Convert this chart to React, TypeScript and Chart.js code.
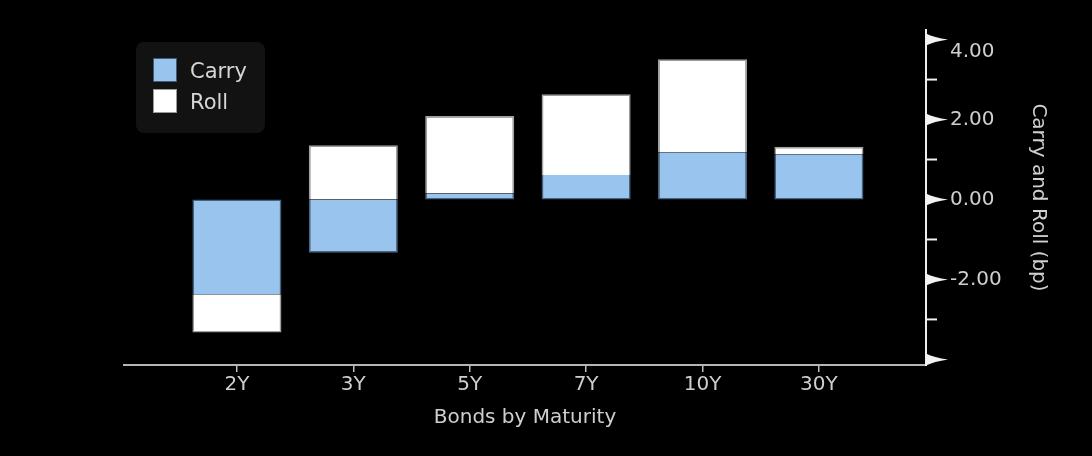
import React, { useEffect, useRef } from 'react';
import { Chart, registerables } from 'chart.js';

Chart.register(...registerables);

const categories = ['2Y', '3Y', '5Y', '7Y', '10Y', '30Y'];
const carryValues = [-2.37, -1.33, 0.15, 0.61, 1.18, 1.13];
const rollValues = [-0.96, 1.36, 1.94, 2.02, 2.33, 0.19];
const seriesNames = ['Carry', 'Roll'];
const xAxisTitle = 'Bonds by Maturity';
const yAxisTitle = 'Carry and Roll (bp)';

const FONT = '"DejaVu Sans", Verdana, sans-serif';
const CARRY_COLOR = '#98c4ee';
const ROLL_COLOR = '#ffffff';

const decorPlugin = {
  id: 'decor',
  afterDraw(chart: any) {
    const { ctx, chartArea, scales } = chart;
    const y = scales.y;
    const ax = chartArea.right;
    ctx.save();
    // y-axis tick marks
    ctx.fillStyle = '#f2f2f2';
    ctx.strokeStyle = '#f2f2f2';
    for (const t of y.ticks) {
      const py = y.getPixelForValue(t.value);
      if (Math.abs(t.value % 2) < 1e-9) {
        ctx.beginPath();
        ctx.moveTo(ax, py - 6);
        ctx.quadraticCurveTo(ax + 8, py - 2, ax + 22, py);
        ctx.quadraticCurveTo(ax + 8, py + 2, ax, py + 6);
        ctx.closePath();
        ctx.fill();
      } else {
        ctx.lineWidth = 2;
        ctx.beginPath();
        ctx.moveTo(ax, py);
        ctx.lineTo(ax + 11, py);
        ctx.stroke();
      }
    }
    // legend
    const lx = 136, ly = 42, lw = 129, lh = 91, r = 8;
    ctx.fillStyle = '#121212';
    ctx.beginPath();
    ctx.moveTo(lx + r, ly);
    ctx.arcTo(lx + lw, ly, lx + lw, ly + lh, r);
    ctx.arcTo(lx + lw, ly + lh, lx, ly + lh, r);
    ctx.arcTo(lx, ly + lh, lx, ly, r);
    ctx.arcTo(lx, ly, lx + lw, ly, r);
    ctx.closePath();
    ctx.fill();
    ctx.font = '21px ' + FONT;
    ctx.textBaseline = 'middle';
    ctx.textAlign = 'left';
    chart.data.datasets.forEach((ds: any, i: number) => {
      const sy = 58 + i * 31;
      ctx.fillStyle = ds.backgroundColor;
      ctx.fillRect(153, sy, 24, 24);
      ctx.strokeStyle = i === 0 ? '#3d5c7a' : '#9a9a9a';
      ctx.lineWidth = 1;
      ctx.strokeRect(153.5, sy + 0.5, 23, 23);
      ctx.fillStyle = '#d6d6d6';
      ctx.fillText(ds.label, 190, sy + 15);
    });
    ctx.restore();
  },
};

export default function App() {
  const ref = useRef<HTMLCanvasElement | null>(null);

  useEffect(() => {
    document.body.style.margin = '0';
    document.body.style.background = '#000';
    const canvas = ref.current;
    if (!canvas) return;
    const chart = new Chart(canvas, {
      type: 'bar',
      data: {
        datasets: [
          {
            label: seriesNames[0],
            data: carryValues.map((v, i) => ({ x: i, y: v })),
            backgroundColor: CARRY_COLOR,
            borderColor: '#45637f',
            borderWidth: 1.5,
            borderSkipped: (c: any) => {
              const r = rollValues[c.dataIndex];
              const v = carryValues[c.dataIndex];
              return (r >= 0) === (v >= 0) ? 'end' : 'start';
            },
          },
          {
            label: seriesNames[1],
            data: rollValues.map((v, i) => ({ x: i, y: v })),
            backgroundColor: ROLL_COLOR,
            borderColor: '#a0a0a0',
            borderWidth: 1.5,
            borderSkipped: 'start',
          },
        ] as any,
      },
      options: {
        animation: false,
        responsive: false,
        maintainAspectRatio: false,
        layout: { padding: { left: 124, top: 30, right: 0, bottom: 0 } },
        datasets: { bar: { barPercentage: 0.765, categoryPercentage: 1 } } as any,
        plugins: { legend: { display: false }, tooltip: { enabled: false } },
        scales: {
          x: {
            type: 'linear',
            stacked: true,
            offset: false,
            min: -0.97,
            max: 5.92,
            afterFit: (s: any) => { s.height = 91; s.paddingLeft = 0; s.paddingRight = 0; },
            afterBuildTicks: (s: any) => { s.ticks = categories.map((_, i) => ({ value: i })); },
            grid: { display: true, drawOnChartArea: false, drawTicks: true, tickLength: 7, color: '#bdbdbd', lineWidth: 1.5, offset: false },
            border: { display: true, color: '#b5b5b5', width: 2 },
            ticks: {
              color: '#cfcfcf',
              font: { family: FONT, size: 20 },
              padding: 1,
              maxRotation: 0,
              autoSkip: false,
              callback: (v: any) => categories[Math.round(Number(v))] ?? '',
            },
            title: {
              display: true,
              text: xAxisTitle,
              color: '#cfcfcf',
              font: { family: FONT, size: 20 },
              padding: { top: 0, bottom: 26 },
            },
          },
          y: {
            position: 'right',
            stacked: true,
            min: -4.14,
            max: 4.24,
            afterFit: (s: any) => { s.width = 166; s.paddingTop = 0; s.paddingBottom = 0; },
            grid: { display: false, drawTicks: false },
            border: { display: true, color: '#eeeeee', width: 2 },
            ticks: {
              stepSize: 1,
              includeBounds: false,
              color: '#cfcfcf',
              font: { family: FONT, size: 20 },
              padding: 24,
              autoSkip: false,
              callback: (v: any) => {
                const n = Number(v);
                if (Math.abs(n % 2) > 1e-9 || n === -4) return '';
                if (n === 4) return ['', n.toFixed(2)];
                return n.toFixed(2);
              },
            },
            title: {
              display: true,
              text: yAxisTitle,
              color: '#cfcfcf',
              font: { family: FONT, size: 20 },
              padding: { top: 42, bottom: 0 },
            },
          },
        },
      } as any,
      plugins: [decorPlugin],
    });
    return () => chart.destroy();
  }, []);

  return (
    <div style={{ position: 'fixed', left: 0, top: 0, width: 1092, height: 456, background: '#000' }}>
      <canvas ref={ref} width={1092} height={456} style={{ display: 'block', width: 1092, height: 456 }} />
    </div>
  );
}
